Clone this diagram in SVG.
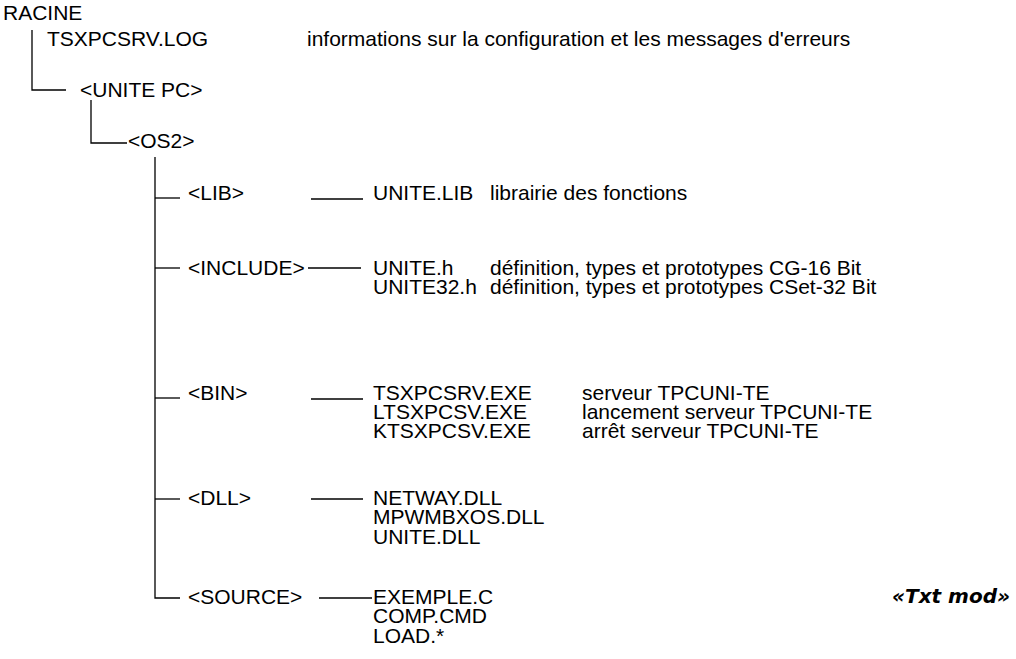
<svg xmlns="http://www.w3.org/2000/svg" width="1016" height="659" viewBox="0 0 1016 659">
<style>
text{font-family:"Liberation Sans",Arial,sans-serif;font-size:21px;fill:#000}
.c line,.c path{stroke:#000;stroke-width:1.3;fill:none}
.tm{font-family:"DejaVu Sans",Verdana,sans-serif;font-weight:bold;font-style:italic;font-size:20px}
</style>
<rect width="1016" height="659" fill="#fff"/>
<g class="c" id="connectors">
<path d="M32 30V90H66"/>
<path d="M91 100V143H127"/>
<path d="M155 157V598H180"/>
<line x1="155" y1="198" x2="180" y2="198"/>
<line x1="155" y1="268" x2="180" y2="268"/>
<line x1="155" y1="398" x2="180" y2="398"/>
<line x1="155" y1="499" x2="180" y2="499"/>
<line x1="311" y1="199" x2="363" y2="199"/>
<line x1="308" y1="268" x2="361" y2="268"/>
<line x1="311" y1="399" x2="363" y2="399"/>
<line x1="311" y1="499" x2="363" y2="499"/>
<line x1="319" y1="598" x2="372" y2="598"/>
</g>
<g id="racine"><text x="3" y="20">RACINE</text></g>
<g id="log"><text x="47" y="46">TSXPCSRV.LOG</text><text x="307" y="46">informations sur la configuration et les messages d'erreurs</text></g>
<g id="unitepc"><text x="80" y="97">&lt;UNITE PC&gt;</text></g>
<g id="os2"><text x="128" y="148">&lt;OS2&gt;</text></g>
<g id="lib"><text x="188" y="200">&lt;LIB&gt;</text><text x="373" y="200">UNITE.LIB</text><text x="490" y="200">librairie des fonctions</text></g>
<g id="include"><text x="188" y="275">&lt;INCLUDE&gt;</text><text x="373" y="275">UNITE.h</text><text x="490" y="275">définition, types et prototypes CG-16 Bit</text><text x="373" y="294">UNITE32.h</text><text x="490" y="294">définition, types et prototypes CSet-32 Bit</text></g>
<g id="bin"><text x="188" y="400">&lt;BIN&gt;</text><text x="373" y="400">TSXPCSRV.EXE</text><text x="582" y="400">serveur TPCUNI-TE</text><text x="373" y="419">LTSXPCSV.EXE</text><text x="582" y="419">lancement serveur TPCUNI-TE</text><text x="373" y="438">KTSXPCSV.EXE</text><text x="582" y="438">arrêt serveur TPCUNI-TE</text></g>
<g id="dll"><text x="188" y="505">&lt;DLL&gt;</text><text x="373" y="505">NETWAY.DLL</text><text x="373" y="524">MPWMBXOS.DLL</text><text x="373" y="544">UNITE.DLL</text></g>
<g id="source"><text x="188" y="604">&lt;SOURCE&gt;</text><text x="373" y="604">EXEMPLE.C</text><text x="373" y="623">COMP.CMD</text><text x="373" y="643">LOAD.*</text></g>
<g id="txtmod"><text class="tm" x="1010" y="603" text-anchor="end">«Txt mod»</text></g>
</svg>
